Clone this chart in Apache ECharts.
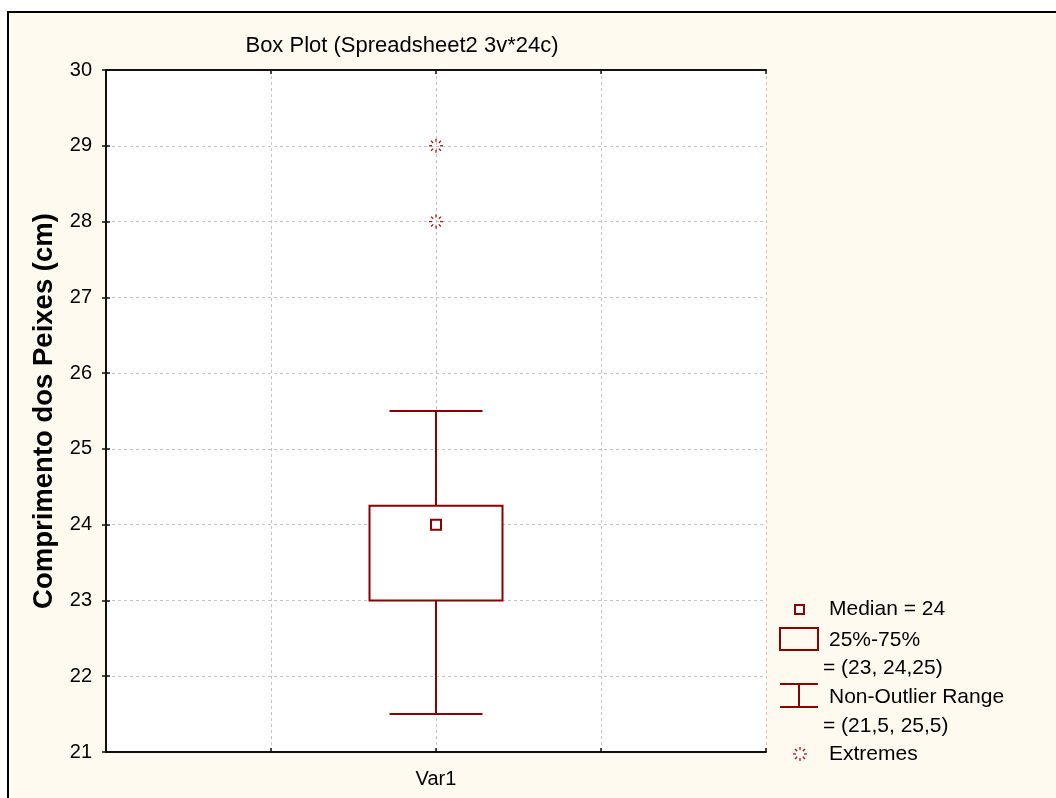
<!DOCTYPE html>
<html>
<head>
<meta charset="utf-8">
<style>
  html, body { margin: 0; padding: 0; background: #ffffff; }
  #chart { width: 1056px; height: 798px; }
</style>
<script src="https://cdn.jsdelivr.net/npm/echarts@6/dist/echarts.min.js"></script>
</head>
<body>
<div id="chart"></div>
<script>
// Box plot summary for one variable (fish length, cm)
const categories = ['Var1'];
const categoryPos = [2];            // place of each variable on the 0..4 x scale
const whiskerLow = [21.5];
const q1 = [23];
const median = [24];
const q3 = [24.25];
const whiskerHigh = [25.5];
const extremes = [[29, 28]];

const yMin = 21, yMax = 30, yStep = 1;
const xMin = 0, xMax = 4, xStep = 1;

const RED = '#8b0000';
const fmt = v => String(v).replace('.', ',');

const boxData = categories.map((c, i) => [categoryPos[i], whiskerLow[i], q1[i], median[i], q3[i], whiskerHigh[i]]);
const extremeData = [];
categories.forEach((c, i) => extremes[i].forEach(v => extremeData.push([categoryPos[i], v])));

function renderBox(params, api) {
  const x = api.value(0);
  const pLow = api.coord([x, api.value(1)]);
  const pQ1 = api.coord([x, api.value(2)]);
  const pMed = api.coord([x, api.value(3)]);
  const pQ3 = api.coord([x, api.value(4)]);
  const pHigh = api.coord([x, api.value(5)]);
  const boxW = 133, capW = 93, medS = 10;
  const line = { stroke: RED, lineWidth: 2, fill: null };
  return {
    type: 'group',
    children: [
      { type: 'line', shape: { x1: pLow[0], y1: pLow[1], x2: pQ1[0], y2: pQ1[1] }, style: line },
      { type: 'line', shape: { x1: pQ3[0], y1: pQ3[1], x2: pHigh[0], y2: pHigh[1] }, style: line },
      { type: 'line', shape: { x1: pLow[0] - capW / 2, y1: pLow[1], x2: pLow[0] + capW / 2, y2: pLow[1] }, style: line },
      { type: 'line', shape: { x1: pHigh[0] - capW / 2, y1: pHigh[1], x2: pHigh[0] + capW / 2, y2: pHigh[1] }, style: line },
      { type: 'rect', shape: { x: pQ3[0] - boxW / 2, y: pQ3[1], width: boxW, height: pQ1[1] - pQ3[1] },
        style: { stroke: RED, lineWidth: 2, fill: '#ffffff' } },
      { type: 'rect', shape: { x: pMed[0] - medS / 2, y: pMed[1] - medS / 2, width: medS, height: medS },
        style: { stroke: RED, lineWidth: 2, fill: '#ffffff' } }
    ]
  };
}

// small starburst of eight dashes
function starburst(cx, cy) {
  const out = [];
  for (let k = 0; k < 8; k++) {
    const a = k * Math.PI / 4;
    const c = Math.cos(a), s = Math.sin(a);
    out.push({ type: 'line',
      shape: { x1: cx + c * 4, y1: cy + s * 4, x2: cx + c * 7, y2: cy + s * 7 },
      style: { stroke: '#a01818', lineWidth: 1.3 } });
  }
  return out;
}

function renderExtreme(params, api) {
  const p = api.coord([api.value(0), api.value(1)]);
  return { type: 'group', children: starburst(p[0], p[1]) };
}

const legendFont = { fontFamily: 'Liberation Sans, Arial, sans-serif', fontSize: 21, fill: '#000' };
function legendText(x, y, text) {
  return { type: 'text', left: x, top: y - 10, style: Object.assign({ text: text }, legendFont) };
}

const chart = echarts.init(document.getElementById('chart'), null, { renderer: 'canvas' });

const axisLine = { show: true, lineStyle: { color: '#111', width: 2 } };
const axisTick = { show: true, inside: true, length: 4, lineStyle: { color: '#111', width: 1.5 } };
const split = { show: true, lineStyle: { color: '#c4c4c4', type: [3, 3], width: 1 } };

chart.setOption({
  animation: false,
  backgroundColor: '#ffffff',
  textStyle: { fontFamily: 'Liberation Sans, Arial, sans-serif' },
  title: {
    text: 'Box Plot (Spreadsheet2 3v*24c)',
    left: 397, top: 30, textAlign: 'center',
    textStyle: { fontSize: 22, fontWeight: 'normal', color: '#000' }
  },
  grid: { left: 106, top: 70, right: 290, bottom: 46, show: true, backgroundColor: '#ffffff', borderWidth: 0 },
  xAxis: [
    { type: 'value', min: xMin, max: xMax, interval: xStep, position: 'bottom',
      axisLine: axisLine, axisTick: axisTick, splitLine: split,
      axisLabel: { fontSize: 20, color: '#000', margin: 17,
        formatter: v => { const i = categoryPos.indexOf(v); return i >= 0 ? categories[i] : ''; } } },
    { type: 'value', min: xMin, max: xMax, interval: xStep, position: 'top',
      axisLine: axisLine, axisTick: axisTick, splitLine: { show: false }, axisLabel: { show: false } }
  ],
  yAxis: [
    { type: 'value', min: yMin, max: yMax, interval: yStep, position: 'left',
      name: 'Comprimento dos Peixes (cm)', nameLocation: 'middle', nameGap: 48,
      nameTextStyle: { fontSize: 27.5, fontWeight: 'bold', color: '#000' },
      axisLine: axisLine, axisTick: axisTick, splitLine: split,
      axisLabel: { fontSize: 20, color: '#000', margin: 14 } },
    { type: 'value', min: yMin, max: yMax, interval: yStep, position: 'right',
      axisLine: axisLine, axisTick: axisTick, splitLine: { show: false }, axisLabel: { show: false } }
  ],
  series: [
    { type: 'custom', xAxisIndex: 0, yAxisIndex: 0, renderItem: renderBox, data: boxData, z: 5 },
    { type: 'custom', xAxisIndex: 0, yAxisIndex: 0, renderItem: renderExtreme, data: extremeData, z: 5 }
  ],
  graphic: [
    { type: 'rect', z: -10, silent: true, shape: { x: 8, y: 12, width: 1100, height: 850 },
      style: { fill: '#fffaf0', stroke: '#000', lineWidth: 2 } },
    // legend keys
    { type: 'rect', shape: { x: 795, y: 605, width: 9, height: 9 }, style: { stroke: RED, lineWidth: 2, fill: '#fff' } },
    { type: 'rect', shape: { x: 780, y: 628, width: 38, height: 22 }, style: { stroke: RED, lineWidth: 2, fill: 'transparent' } },
    { type: 'group', children: [
      { type: 'line', shape: { x1: 780, y1: 684, x2: 818, y2: 684 }, style: { stroke: RED, lineWidth: 2 } },
      { type: 'line', shape: { x1: 780, y1: 707, x2: 818, y2: 707 }, style: { stroke: RED, lineWidth: 2 } },
      { type: 'line', shape: { x1: 799, y1: 684, x2: 799, y2: 707 }, style: { stroke: RED, lineWidth: 2 } }
    ] },
    { type: 'group', children: starburst(800, 754) },
    legendText(829, 609, 'Median = ' + fmt(median[0])),
    legendText(829, 640, '25%-75%'),
    legendText(823, 668, '= (' + fmt(q1[0]) + ', ' + fmt(q3[0]) + ')'),
    legendText(829, 697, 'Non-Outlier Range'),
    legendText(823, 726, '= (' + fmt(whiskerLow[0]) + ', ' + fmt(whiskerHigh[0]) + ')'),
    legendText(829, 754, 'Extremes')
  ]
});
</script>
</body>
</html>
